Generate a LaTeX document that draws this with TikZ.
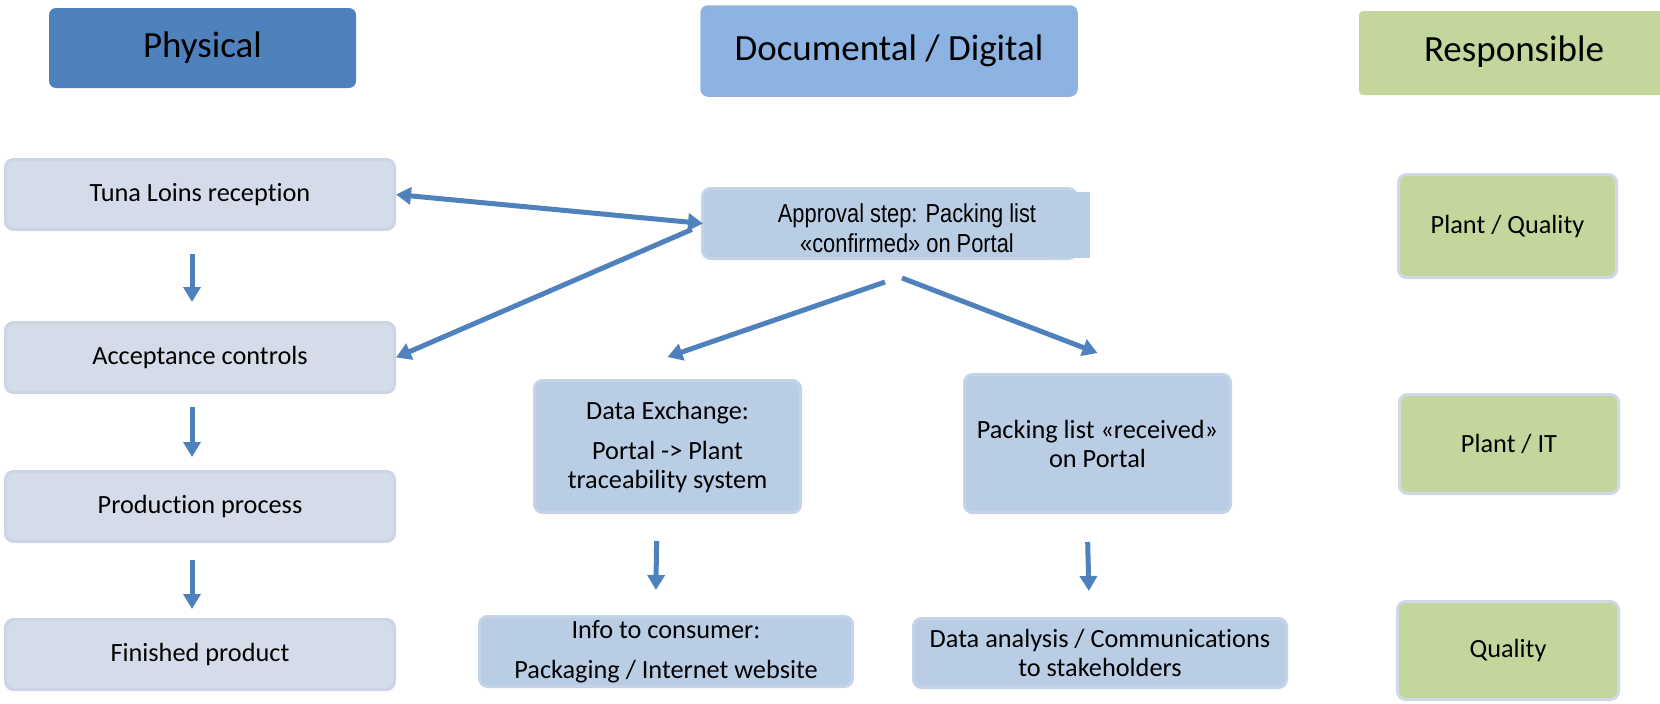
\documentclass[tikz,border=0pt]{standalone}
\usepackage{fontspec}
\setmainfont{Carlito}[RawFeature=-liga]
\newfontfamily\narrowarial[FakeStretch=0.84]{Liberation Sans}
\usetikzlibrary{arrows.meta}
\definecolor{physfill}{HTML}{4F81BD}
\definecolor{docfill}{HTML}{8DB3E2}
\definecolor{docborder}{HTML}{93B2DA}
\definecolor{respfill}{HTML}{C3D69B}
\definecolor{leftfill}{HTML}{D5DCE9}
\definecolor{leftborder}{HTML}{CDD5E4}
\definecolor{midfill}{HTML}{B9CDE5}
\definecolor{midborder}{HTML}{C5D3E7}
\definecolor{greenfill}{HTML}{C3D69B}
\definecolor{greenborder}{HTML}{D0D8E6}
\definecolor{arrowblue}{HTML}{4F81BD}
\begin{document}
\begin{tikzpicture}[x=1pt,y=-1pt,
  bodyfont/.style={font=\fontsize{26.3}{29}\selectfont},
  headfont/.style={font=\fontsize{37}{44}\selectfont},
  basebox/.style={rectangle, rounded corners=8pt, inner sep=0pt, align=center, line width=3pt},
  leftbox/.style={basebox, bodyfont, fill=leftfill, draw=leftborder, minimum width=389pt, minimum height=70pt},
  midbox/.style={basebox, bodyfont, fill=midfill, draw=midborder},
  greenbox/.style={basebox, bodyfont, fill=greenfill, draw=greenborder},
  headbox/.style={rectangle, rounded corners=7pt, inner sep=0pt, headfont},
  arr/.style={draw=arrowblue, line width=5pt, -{Triangle[length=15pt,width=17pt]}},
  darr/.style={draw=arrowblue, line width=5pt, {Triangle[length=15pt,width=17pt]}-{Triangle[length=15pt,width=17pt]}}
]
\useasboundingbox (0,0) rectangle (1660,704);

% headers
\node[headbox, fill=physfill, minimum width=307pt, minimum height=80pt] (phys) at (202.5,48) {Physical};
\node[headbox, fill=docfill, draw=docborder, line width=1.5pt, minimum width=376pt, minimum height=90pt] (doc) at (889,51) {Documental / Digital};
\node[rectangle, rounded corners=4pt, inner sep=0pt, fill=respfill, minimum width=320pt, minimum height=84pt] (respbg) at (1519,53) {};
\node[headfont, inner sep=0pt] (resp) at (1514,52) {Responsible};

% physical column
\node[leftbox] (tuna) at (200,194.5) {Tuna Loins reception};
\node[leftbox] (acc) at (200,357.5) {Acceptance controls};
\node[leftbox] (prod) at (200,506.5) {Production process};
\node[leftbox] (fin) at (200,654.5) {Finished product};

% documental column
\node[basebox, fill=midfill, draw=midborder, minimum width=374pt, minimum height=70pt] (appr) at (889.5,223.5) {};
\fill[midfill] (1050,192) rectangle (1090,258);
\node[font=\narrowarial\fontsize{26}{30}\selectfont, align=center, inner sep=0pt] (apprtext) at (907,228)
  {Approval step: Packing list\\«confirmed» on Portal};

\node[midbox, minimum width=266pt, minimum height=132pt] (dex) at (667.5,446.5)
  {Data Exchange:\\[11pt]Portal -> Plant\\traceability system};
\node[midbox, minimum width=266pt, minimum height=138pt] (rcv) at (1097.5,443.5)
  {Packing list «received»\\on Portal};
\node[midbox, minimum width=373pt, minimum height=70pt] (info) at (666,651.5)
  {Info to consumer:\\[11pt]Packaging / Internet website};
\node[midbox, minimum width=373pt, minimum height=69pt] (dan) at (1100,653)
  {Data analysis / Communications\\to stakeholders};

% responsible column
\node[greenbox, minimum width=218pt, minimum height=103pt] (pq) at (1507.5,226) {Plant / Quality};
\node[greenbox, minimum width=219pt, minimum height=99pt] (pit) at (1509,444) {Plant / IT};
\node[greenbox, minimum width=221pt, minimum height=98pt] (qual) at (1508,650.5) {Quality};

% vertical arrows
\draw[arr, shorten <=23pt, shorten >=19pt] ([xshift=-8pt]tuna.south) -- ([xshift=-8pt]acc.north);
\draw[arr, shorten <=13pt, shorten >=13pt] ([xshift=-8pt]acc.south) -- ([xshift=-8pt]prod.north);
\draw[arr, shorten <=17pt, shorten >=9pt] ([xshift=-8pt]prod.south) -- ([xshift=-8pt]fin.north);
\draw[arr, shorten <=27pt, shorten >=25pt] ([xshift=-10.5pt]dex.south) -- ([xshift=-10.5pt]info.north);
\draw[arr, shorten <=28pt, shorten >=26pt] ([xshift=-10.5pt]rcv.south) -- ([xshift=-10.5pt]dan.north);

% links with the approval step
\draw[darr] (tuna.east) -- ([xshift=2pt]appr.west);
\draw[arr, shorten <=10pt] ([yshift=-2pt]appr.west) -- (acc.east);
\draw[arr] ([xshift=-4.5pt,yshift=-22pt]appr.south) -- ([yshift=22pt]dex.north);
\draw[arr] ([xshift=12.5pt,yshift=-18pt]appr.south) -- ([yshift=20pt]rcv.north);
\end{tikzpicture}
\end{document}
